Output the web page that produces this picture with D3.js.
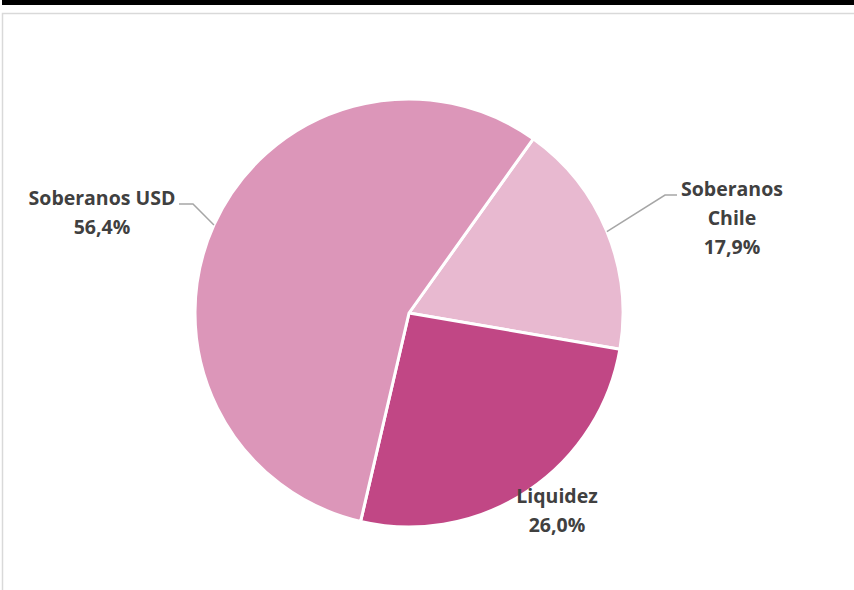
<!DOCTYPE html>
<html>
<head>
<meta charset="utf-8">
<script src="https://cdn.jsdelivr.net/npm/d3@7"></script>
<style>
  body { margin: 0; background: #fff; }
  svg { display: block; }
</style>
</head>
<body>
<svg id="drawing_region"></svg>
<script>
// slices in drawing order (clockwise), Excel-style pie
const categories = ["Soberanos Chile", "Liquidez", "Soberanos USD"];
const shares = [17.9, 26.0, 56.4];
const labelLines = [["Soberanos", "Chile", "17,9%"], ["Liquidez", "26,0%"], ["Soberanos USD", "56,4%"]];
const colors = ["#E8B9D0", "#C14785", "#DC96B9"];

const data = categories.map((c, i) => ({ label: c, value: shares[i], lines: labelLines[i], color: colors[i] }));

const config = {
    width: 854,
    height: 590,
    cx: 409,
    cy: 313,
    radius: 214,
    startAngle: 35.5 * Math.PI / 180
};

const svg = d3.select('#drawing_region')
    .attr('width', config.width)
    .attr('height', config.height);

// top black bar + chart frame
svg.append('rect').attr('x', 2).attr('y', 0).attr('width', 852).attr('height', 5).attr('fill', '#000');
svg.append('rect').attr('x', 2.5).attr('y', 13.5).attr('width', 900).attr('height', 600)
    .attr('fill', 'none').attr('stroke', '#D9D9D9').attr('stroke-width', 1.5);

const pie = d3.pie()
    .sort(null)
    .value(d => d.value)
    .startAngle(config.startAngle)
    .endAngle(config.startAngle + 2 * Math.PI);

const arc = d3.arc().innerRadius(0).outerRadius(config.radius);
const edge = d3.arc().innerRadius(config.radius).outerRadius(config.radius);

const chart = svg.append('g')
    .attr('transform', `translate(${config.cx}, ${config.cy})`);

const arcs = pie(data);

chart.selectAll('path.slice')
    .data(arcs)
    .enter()
    .append('path')
    .attr('class', 'slice')
    .attr('d', arc)
    .attr('fill', d => d.data.color)
    .attr('stroke', '#fff')
    .attr('stroke-width', 3)
    .attr('stroke-linejoin', 'round');

// label placement (offsets relative to pie centre), leader elbow where needed
const labelPos = [
    { x: 323, y: -117, elbow: [256, -118], end: [268, -118] },
    { x: 148, y: 190 },
    { x: -307, y: -108, elbow: [-216, -109], end: [-230, -109] }
];

const lineH = 29;

arcs.forEach((d, i) => {
    const p = labelPos[i];
    if (p.elbow) {
        const c = edge.centroid(d);
        chart.append('polyline')
            .attr('points', [c, p.elbow, p.end].map(q => q.join(',')).join(' '))
            .attr('fill', 'none')
            .attr('stroke', '#A6A6A6')
            .attr('stroke-width', 1.5);
    }
    const t = chart.append('text')
        .attr('text-anchor', 'middle')
        .attr('font-family', 'Open Sans, sans-serif')
        .attr('font-weight', 'bold')
        .attr('font-size', 19.5)
        .attr('fill', '#404040');
    d.data.lines.forEach((s, j) => {
        t.append('tspan')
            .attr('x', p.x)
            .attr('y', p.y + j * lineH)
            .text(s);
    });
});
</script>
</body>
</html>
